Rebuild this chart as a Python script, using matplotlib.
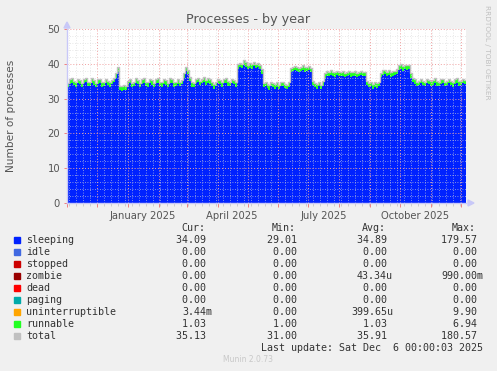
import numpy as np
import matplotlib
matplotlib.use("Agg")
import matplotlib.pyplot as plt
import matplotlib.dates as mdates
from datetime import datetime, timedelta

W, H = 497, 371

# ---------------- data (2-day samples, 200 points) ----------------
start = datetime(2024, 11, 1)
end = datetime(2025, 12, 6)
step_days = 2

sleeping = [
    # Nov - mid Dec 2024
    33.2, 34.3, 34.6, 33.8, 33.4, 34.5, 34.2, 33.3, 34.4, 34.7, 33.6, 33.5,
    34.6, 34.0, 33.2, 34.3, 34.5, 33.4, 33.6, 34.4, 33.9, 33.3, 34.2, 34.8,
    36.0, 37.6, 32.4, 32.3, 32.6, 32.4,
    # Jan - Feb 2025
    33.8, 34.4, 33.3, 33.6, 34.5, 34.1, 33.2, 34.3, 34.6, 33.5, 33.4, 34.5,
    33.9, 33.2, 34.4, 34.6, 33.6, 33.3, 34.3, 34.0, 33.2, 34.5, 34.4, 33.4,
    33.6, 34.2, 33.5,
    34.2, 36.0, 37.8, 37.0, 35.0,
    # Mar - Apr
    33.4, 33.2, 34.4, 34.7, 33.8, 34.5, 34.8, 34.0, 34.6, 34.3, 33.6, 32.8,
    33.5, 34.4, 34.1, 33.3, 34.5, 34.6, 33.7, 33.5, 34.5, 34.2, 33.4,
    # Apr - May elevated
    38.6, 39.0, 38.8, 39.6, 39.2, 38.5, 38.9, 38.6, 39.3, 38.8, 39.0, 38.4, 37.2,
    # May - Jun
    33.2, 33.6, 33.0, 32.6, 33.5, 33.3, 32.9, 33.4, 32.7, 33.5, 33.6, 33.0,
    32.8, 33.4,
    # Jun - Jul elevated
    37.6, 37.9, 38.1, 37.8, 37.6, 37.9, 38.2, 37.7, 37.9, 38.1, 37.5,
    33.8, 33.2, 32.9, 33.5, 32.8, 33.6,
    # Jul - Aug
    36.0, 36.6, 36.4, 36.8, 36.5, 36.3, 36.7, 36.5, 36.4, 36.6, 36.2, 36.5,
    36.7, 36.3, 36.4, 36.6, 36.2, 36.5, 36.7, 36.4, 36.5,
    33.8, 33.2, 33.5, 32.9, 33.4, 33.0, 33.6,
    # Sep - Oct
    36.2, 36.8, 37.0, 36.5, 36.9, 36.3, 36.6, 36.8, 37.2,
    38.3, 38.6, 38.0, 38.5, 38.2, 38.4,
    36.0, 34.8,
    # Oct - Dec
    34.2, 33.6, 33.9, 34.5, 33.8, 33.5, 34.4, 34.2, 33.6, 34.0, 34.6, 33.7,
    33.5, 34.3, 34.5, 33.6, 33.8, 34.4, 33.9, 33.4, 34.3, 34.6, 33.7, 33.8,
    34.5, 34.1,
]

runnable = [
    1.0, 1.1, 1.0, 1.0, 1.1, 1.0, 1.0, 1.0, 1.1, 1.0, 1.0, 1.0, 1.1, 1.0, 1.0, 1.0, 1.0, 1.1, 1.0, 1.0,
    1.0, 1.1, 1.0, 1.0, 1.2, 1.1, 1.0, 1.0, 1.0, 1.0, 1.0, 1.1, 1.0, 1.0, 1.1, 1.0, 1.0, 1.0, 1.1, 1.0,
    1.0, 1.0, 1.1, 1.0, 1.0, 1.0, 1.0, 1.1, 1.0, 1.0, 1.0, 1.1, 1.0, 1.0, 1.0, 1.1, 1.0, 1.0, 1.2, 1.1,
    1.1, 1.0, 1.0, 1.0, 1.1, 1.0, 1.0, 1.0, 1.1, 1.0, 1.0, 1.0, 1.0, 1.1, 1.0, 1.0, 1.0, 1.1, 1.0, 1.0,
    1.0, 1.1, 1.0, 1.0, 1.0, 1.1, 1.0, 1.0, 1.1, 1.0, 1.0, 1.0, 1.1, 1.0, 1.0, 1.0, 1.0, 1.0, 1.1, 1.0,
    1.0, 1.0, 1.1, 1.0, 1.0, 1.0, 1.0, 1.1, 1.0, 1.0, 1.0, 1.1, 1.0, 1.0, 1.0, 1.1, 1.0, 1.0, 1.1, 1.0,
    1.0, 1.0, 1.0, 1.1, 1.0, 1.0, 1.0, 1.0, 1.1, 1.0, 1.0, 1.0, 1.1, 1.0, 1.0, 1.0, 1.0, 1.1, 1.0, 1.0,
    1.0, 1.0, 1.1, 1.0, 1.0, 1.0, 1.0, 1.1, 1.0, 1.0, 1.0, 1.1, 1.0, 1.0, 1.0, 1.1, 1.0, 1.0, 1.1, 1.0,
    1.0, 1.1, 1.0, 1.0, 1.0, 1.1, 1.0, 1.0, 1.0, 1.0, 1.1, 1.0, 1.0, 1.0, 1.1, 1.0, 1.0, 1.0, 1.0, 1.1,
    1.0, 1.0, 1.1, 1.0, 1.0, 1.0, 1.0, 1.1, 1.0, 1.0, 1.0, 1.1, 1.0, 1.0, 1.0, 1.0, 1.1, 1.0, 1.0, 1.0,
]

n = len(sleeping)
zeros = [0.0] * n
idle = zeros
stopped = zeros
zombie = zeros
dead = zeros
paging = zeros
uninterruptible = zeros

series_names = ["sleeping", "idle", "stopped", "zombie", "dead", "paging",
                "uninterruptible", "runnable"]
series_colors = ["#0022ff", "#4169e1", "#cc0000", "#990000", "#ff0000",
                 "#00aaaa", "#ffa500", "#22ff22"]
total_color = "#c0c0c0"

legend_labels = ["sleeping", "idle", "stopped", "zombie", "dead", "paging",
                 "uninterruptible", "runnable", "total"]
legend_colors = series_colors + [total_color]
cur_vals = ["34.09 ", "0.00 ", "0.00 ", "0.00 ", "0.00 ", "0.00 ", "3.44m", "1.03 ", "35.13 "]
min_vals = ["29.01 ", "0.00 ", "0.00 ", "0.00 ", "0.00 ", "0.00 ", "0.00 ", "1.00 ", "31.00 "]
avg_vals = ["34.89 ", "0.00 ", "0.00 ", "43.34u", "0.00 ", "0.00 ", "399.65u", "1.03 ", "35.91 "]
max_vals = ["179.57 ", "0.00 ", "0.00 ", "990.00m", "0.00 ", "0.00 ", "9.90 ", "6.94 ", "180.57 "]

month_labels = ["January 2025", "April 2025", "July 2025", "October 2025"]
month_label_dates = [datetime(2025, 1, 16), datetime(2025, 4, 15),
                     datetime(2025, 7, 16), datetime(2025, 10, 16)]

# ---------------- figure ----------------
BG = "#f0f0f0"
TXT = "#555555"
fig = plt.figure(figsize=(W / 100, H / 100), dpi=100, facecolor=BG)

px_l, px_r, px_t, px_b = 67, 466, 29, 203
ax = fig.add_axes([px_l / W, 1 - px_b / H, (px_r - px_l) / W, (px_b - px_t) / H])
ax.set_facecolor("white")

times = [start + timedelta(days=step_days * i) for i in range(n)] + [end]
tnum = mdates.date2num(times)

stack = [sleeping, idle, stopped, zombie, dead, paging, uninterruptible, runnable]
base = np.zeros(n + 1)
for vals, col in zip(stack, series_colors):
    v = np.array(list(vals) + [vals[-1]])
    top = base + v
    if np.any(v > 0):
        ax.fill_between(tnum, base, top, step="post", color=col, linewidth=0, zorder=2)
    base = top
total = base
ax.step(tnum, total + 0.25, where="post", color=total_color, linewidth=1.0, zorder=3)

ax.set_xlim(mdates.date2num(start), mdates.date2num(end))
ax.set_ylim(0, 50)

# grid
ax.xaxis.set_major_locator(mdates.MonthLocator())
ax.xaxis.set_minor_locator(mdates.WeekdayLocator(byweekday=mdates.SU))
ax.xaxis.set_major_formatter(plt.NullFormatter())
ax.set_yticks(np.arange(0, 51, 10))
ax.set_yticks(np.arange(0, 51, 2), minor=True)
ax.grid(which="minor", color="#d8d8d8", linestyle=(0, (1, 2)), linewidth=0.6, alpha=0.8, zorder=4)
ax.grid(which="major", color="#f0a0a0", linestyle=(0, (1, 2)), linewidth=0.7, zorder=4)
ax.set_axisbelow(False)
ax.tick_params(axis="x", which="major", length=3, color="#f08080", width=0.7)
ax.tick_params(axis="x", which="minor", length=2, color="#cccccc", width=0.7)
ax.tick_params(axis="y", which="major", length=2, color="#f08080", width=0.7,
               labelsize=7.2, labelcolor=TXT, pad=3)
ax.tick_params(axis="y", which="minor", length=0)

for s in ["top", "right"]:
    ax.spines[s].set_visible(False)
for s in ["left", "bottom"]:
    ax.spines[s].set_color("#c8c8f8")
    ax.spines[s].set_linewidth(1)
    ax.spines[s].set_zorder(5)

# arrows on axes
fig.patches.append(matplotlib.patches.Polygon(
    [[(px_l - 3) / W, 1 - (px_t - 1) / H], [(px_l + 3) / W, 1 - (px_t - 1) / H],
     [px_l / W, 1 - (px_t - 7) / H]], closed=True, transform=fig.transFigure,
    color="#c8c8f8"))
fig.patches.append(matplotlib.patches.Polygon(
    [[(px_r + 2) / W, 1 - (px_b - 3) / H], [(px_r + 2) / W, 1 - (px_b + 3) / H],
     [(px_r + 8) / W, 1 - px_b / H]], closed=True, transform=fig.transFigure,
    color="#c8c8f8"))

def ftext(x, y, s, **kw):
    fig.text(x / W, 1 - y / H, s, **kw)

# month labels
for lab, d in zip(month_labels, month_label_dates):
    ax.text(mdates.date2num(d), -2.4, lab, ha="center", va="top",
            fontsize=7.2, color=TXT, clip_on=False)

ftext(248, 19, "Processes - by year", ha="center", va="center", fontsize=9.2, color=TXT)
ftext(11, 116, "Number of processes", ha="center", va="center", rotation=90,
      fontsize=7.6, color=TXT)
ftext(487, 52, "RRDTOOL / TOBI OETIKER", ha="center", va="center", rotation=270,
      fontsize=5.3, color="#c0c0c0")

mono = dict(family="DejaVu Sans Mono", fontsize=7.2, color="#333333", va="center")
ftext(205, 228, "Cur:", ha="right", **mono)
ftext(296, 228, "Min:", ha="right", **mono)
ftext(386, 228, "Avg:", ha="right", **mono)
ftext(476, 228, "Max:", ha="right", **mono)

for k, lab in enumerate(legend_labels):
    y = 240 + 12 * k
    fig.patches.append(matplotlib.patches.Rectangle(
        (14 / W, 1 - (y + 3) / H), 6 / W, 6 / H, transform=fig.transFigure,
        color=legend_colors[k]))
    ftext(26, y, lab, ha="left", **mono)
    ftext(212, y, cur_vals[k], ha="right", **mono)
    ftext(303, y, min_vals[k], ha="right", **mono)
    ftext(393, y, avg_vals[k], ha="right", **mono)
    ftext(483, y, max_vals[k], ha="right", **mono)

ftext(483, 348, "Last update: Sat Dec  6 00:00:03 2025", ha="right", **mono)
ftext(248, 360, "Munin 2.0.73", ha="center", va="center", fontsize=5.5, color="#c8c8c8")

fig.savefig("out.png", dpi=100, facecolor=BG)
